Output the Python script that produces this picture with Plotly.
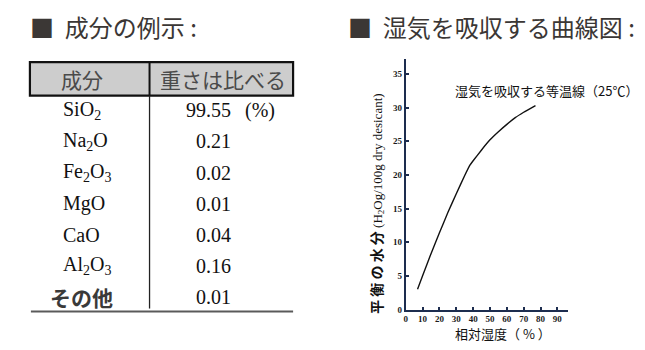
import plotly.graph_objects as go

# ---------------- data ----------------
header = ["成分", "重さは比べる"]
components = ["SiO<sub>2</sub>", "Na<sub>2</sub>O", "Fe<sub>2</sub>O<sub>3</sub>", "MgO", "CaO",
              "Al<sub>2</sub>O<sub>3</sub>", "その他"]
weights = ["99.55", "0.21", "0.02", "0.01", "0.04", "0.16", "0.01"]
unit = "(%)"

rel_humidity = [7, 10, 15, 20, 25, 30, 35, 38, 40, 45, 50, 55, 60, 65, 70, 77]
moisture = [3.0, 5.0, 8.3, 11.4, 14.4, 17.2, 19.9, 21.4, 22.1, 23.7, 25.2, 26.4, 27.5, 28.5, 29.3, 30.3]
x_ticks = [0, 10, 20, 30, 40, 50, 60, 70, 80, 90]
y_ticks = [0, 5, 10, 15, 20, 25, 30, 35]

left_title = "成分の例示 :"
right_title = "湿気を吸収する曲線図 :"
curve_label = "湿気を吸収する等温線（25℃）"
x_title = "相対湿度（ % ）"
y_title_jp = "平 衡 の 水 分"
y_title_en = " (H<sub>2</sub>Og/100g dry desicant)"

# ---------------- layout helpers ----------------
W, H = 645, 350
def px(x):
    return x / W
def py(y):
    return 1 - y / H

CJK = "Noto Sans CJK JP"
SERIF = "Liberation Serif"
NAVY = "#1d2d4f"

fig = go.Figure()
fig.add_trace(go.Scatter(
    x=rel_humidity, y=moisture, mode="lines",
    line=dict(color="#111111", width=1.4, shape="spline", smoothing=0.3),
    hoverinfo="skip", showlegend=False,
))

# axis geometry (pixels)
ax_left, ax_right = 405, 568
ax_bottom, ax_top = 314, 60
x_px_per_unit = 1.69
y_px_per_unit = 6.83

fig.update_layout(
    width=W, height=H,
    margin=dict(l=0, r=0, t=0, b=0),
    paper_bgcolor="white", plot_bgcolor="white",
    showlegend=False,
    xaxis=dict(
        domain=[px(ax_left), px(ax_right)],
        range=[0, (ax_right - ax_left) / x_px_per_unit],
        tickvals=x_ticks, ticks="inside", ticklen=3, tickwidth=1.5, tickcolor=NAVY,
        showline=True, linecolor=NAVY, linewidth=2, showgrid=False, zeroline=False,
        tickfont=dict(family=SERIF, size=9, color="#1a1a1a", weight="bold"),
        fixedrange=True,
    ),
    yaxis=dict(
        domain=[py(ax_bottom), py(ax_top)],
        range=[0, (ax_bottom - ax_top) / y_px_per_unit],
        tickvals=y_ticks, ticks="inside", ticklen=3, tickwidth=1.5, tickcolor=NAVY,
        showline=True, linecolor=NAVY, linewidth=2, showgrid=False, zeroline=False,
        tickfont=dict(family=SERIF, size=9, color="#1a1a1a", weight="bold"),
        fixedrange=True,
    ),
)

ann = []
shapes = []

# titles
title_color = "#3b3735"
ann.append(dict(x=px(26), y=py(27), xref="paper", yref="paper", xanchor="left", yanchor="middle",
                text="■  " + left_title, showarrow=False,
                font=dict(family=CJK, size=24, color=title_color)))
ann.append(dict(x=px(345), y=py(27), xref="paper", yref="paper", xanchor="left", yanchor="middle",
                text="■  " + right_title, showarrow=False,
                font=dict(family=CJK, size=24, color=title_color)))

# table
tbl_left, tbl_right, tbl_div = 28, 292, 148
hdr_top, hdr_bot = 63, 97
row0_y, row_h = 112, 31.5
shapes.append(dict(type="rect", xref="paper", yref="paper",
                   x0=px(tbl_left), x1=px(tbl_right), y0=py(hdr_bot), y1=py(hdr_top),
                   fillcolor="#cdcdcd", line=dict(color="#111111", width=2.2), layer="below"))
shapes.append(dict(type="line", xref="paper", yref="paper",
                   x0=px(tbl_div), x1=px(tbl_div), y0=py(hdr_bot), y1=py(hdr_top),
                   line=dict(color="#111111", width=2)))
shapes.append(dict(type="line", xref="paper", yref="paper",
                   x0=px(tbl_div), x1=px(tbl_div), y0=py(313), y1=py(hdr_bot),
                   line=dict(color="#222222", width=1.3)))
shapes.append(dict(type="line", xref="paper", yref="paper",
                   x0=px(29), x1=px(tbl_right), y0=py(316), y1=py(316),
                   line=dict(color="#5a5a5a", width=2)))

ann.append(dict(x=px(80), y=py(80), xref="paper", yref="paper", xanchor="center", yanchor="middle",
                text=header[0], showarrow=False, font=dict(family=CJK, size=21, color="#4a4a4a")))
ann.append(dict(x=px(222), y=py(80), xref="paper", yref="paper", xanchor="center", yanchor="middle",
                text=header[1], showarrow=False, font=dict(family=CJK, size=21, color="#4a4a4a")))

for i, (name, val) in enumerate(zip(components, weights)):
    yy = row0_y + i * row_h
    is_cjk = not any(c.isascii() and c.isalpha() for c in name)
    if is_cjk:
        ann.append(dict(x=px(46), y=py(yy), xref="paper", yref="paper", xanchor="left", yanchor="middle",
                        text="<b>" + name + "</b>", showarrow=False,
                        font=dict(family=CJK, size=21, color="#3a3a3a")))
    else:
        ann.append(dict(x=px(59), y=py(yy), xref="paper", yref="paper", xanchor="left", yanchor="middle",
                        text=name, showarrow=False,
                        font=dict(family=SERIF, size=20, color="#111111")))
    ann.append(dict(x=px(232), y=py(yy), xref="paper", yref="paper", xanchor="right", yanchor="middle",
                    text=val, showarrow=False, font=dict(family=SERIF, size=20, color="#111111")))
    if i == 0:
        ann.append(dict(x=px(242), y=py(yy), xref="paper", yref="paper", xanchor="left", yanchor="middle",
                        text=unit, showarrow=False, font=dict(family=SERIF, size=20, color="#111111")))

# chart labels
ann.append(dict(x=px(452), y=py(92), xref="paper", yref="paper", xanchor="left", yanchor="middle",
                text=curve_label, showarrow=False,
                font=dict(family=CJK, size=13, color="#111111")))
ann.append(dict(x=px(503), y=py(338), xref="paper", yref="paper", xanchor="center", yanchor="middle",
                text=x_title, showarrow=False,
                font=dict(family=CJK, size=13, color="#111111")))
ann.append(dict(x=px(375), y=py(206), xref="paper", yref="paper", xanchor="center", yanchor="middle",
                textangle=-90,
                text='<span style="font-family:Noto Sans CJK JP;font-size:14px;font-weight:bold">'
                     + y_title_jp + '</span>' + y_title_en,
                showarrow=False,
                font=dict(family=SERIF, size=13, color="#111111")))

fig.update_layout(annotations=ann, shapes=shapes)
fig.write_html("out.html")
